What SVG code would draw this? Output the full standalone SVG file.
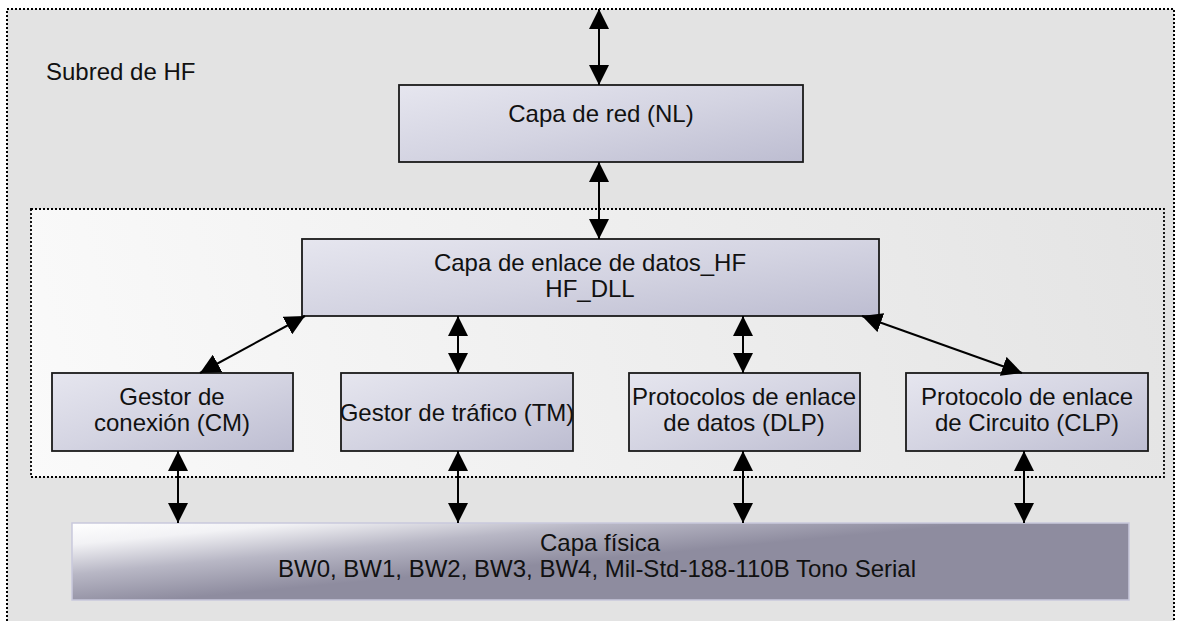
<svg xmlns="http://www.w3.org/2000/svg" width="1180" height="621" viewBox="0 0 1180 621">
<style>
.box{stroke:#1a1a1a;stroke-width:1.8;fill:url(#boxg)}
.t{font-family:"Liberation Sans",Arial,sans-serif;font-size:24px;fill:#111}
.c{text-anchor:middle}
.con{stroke:#000;stroke-width:2;fill:none;marker-start:url(#ah);marker-end:url(#ah)}
</style>
<defs>
<linearGradient id="boxg" x1="0" y1="0" x2="1" y2="1">
<stop offset="0" stop-color="#e6e6ef"/>
<stop offset="0.5" stop-color="#d4d4e2"/>
<stop offset="1" stop-color="#bdbdd1"/>
</linearGradient>
<linearGradient id="innerg" gradientUnits="userSpaceOnUse" x1="31" y1="477" x2="1164" y2="209">
<stop offset="0" stop-color="#fafafa"/>
<stop offset="1" stop-color="#e4e4e4"/>
</linearGradient>
<linearGradient id="physg" gradientUnits="userSpaceOnUse" x1="72" y1="523" x2="80" y2="608">
<stop offset="0" stop-color="#ffffff"/>
<stop offset="0.25" stop-color="#f2f2f5"/>
<stop offset="0.6" stop-color="#b8b7c5"/>
<stop offset="1" stop-color="#8e8c9f"/>
</linearGradient>
<marker id="ah" viewBox="0 0 20 20" refX="20" refY="10" markerWidth="20" markerHeight="20" markerUnits="userSpaceOnUse" orient="auto-start-reverse">
<path d="M0,0 L20,10 L0,20 Z" fill="#000"/>
</marker>
</defs>
<rect width="1180" height="621" fill="#fff"/>
<g id="subred">
<rect x="7" y="9" width="1167" height="625" fill="#e3e3e3" stroke="#000" stroke-width="2" stroke-dasharray="2 2"/>
<text class="t" x="46" y="80">Subred de HF</text>
</g>
<g id="dll-group">
<rect x="31" y="209" width="1133" height="268" fill="url(#innerg)" stroke="#000" stroke-width="1.8" stroke-dasharray="2 2"/>
</g>
<g id="nl">
<rect class="box" x="399" y="85" width="404" height="77"/>
<text class="t c" x="601" y="122">Capa de red (NL)</text>
</g>
<g id="dll">
<rect class="box" x="302" y="239" width="577" height="77"/>
<text class="t c" x="590" y="271">Capa de enlace de datos_HF</text>
<text class="t c" x="590" y="297">HF_DLL</text>
</g>
<g id="cm">
<rect class="box" x="52" y="373" width="241" height="78"/>
<text class="t c" x="172" y="405">Gestor de</text>
<text class="t c" x="172" y="431">conexión (CM)</text>
</g>
<g id="tm">
<rect class="box" x="341" y="373" width="232" height="78"/>
<text class="t c" x="457" y="421">Gestor de tráfico (TM)</text>
</g>
<g id="dlp">
<rect class="box" x="629" y="373" width="231" height="78"/>
<text class="t c" x="744" y="405">Protocolos de enlace</text>
<text class="t c" x="744" y="431">de datos (DLP)</text>
</g>
<g id="clp">
<rect class="box" x="906" y="373" width="242" height="78"/>
<text class="t c" x="1027" y="405">Protocolo de enlace</text>
<text class="t c" x="1027" y="431">de Circuito (CLP)</text>
</g>
<g id="phy">
<rect x="72" y="523" width="1057" height="77" fill="url(#physg)" stroke="#c9c9dd" stroke-width="1.5"/>
<text class="t c" x="600" y="551">Capa física</text>
<text class="t c" x="597" y="577">BW0, BW1, BW2, BW3, BW4, Mil-Std-188-110B Tono Serial</text>
</g>
<g id="connectors">
<line class="con" x1="599" y1="9" x2="599" y2="85"/>
<line class="con" x1="599" y1="162" x2="599" y2="239"/>
<line class="con" x1="305" y1="316" x2="200" y2="373"/>
<line class="con" x1="458" y1="316" x2="458" y2="373"/>
<line class="con" x1="743" y1="316" x2="743" y2="373"/>
<line class="con" x1="862" y1="316" x2="1022" y2="373"/>
<line class="con" x1="178" y1="451" x2="178" y2="523"/>
<line class="con" x1="458" y1="451" x2="458" y2="523"/>
<line class="con" x1="743" y1="451" x2="743" y2="523"/>
<line class="con" x1="1024" y1="451" x2="1024" y2="523"/>
</g>
</svg>
